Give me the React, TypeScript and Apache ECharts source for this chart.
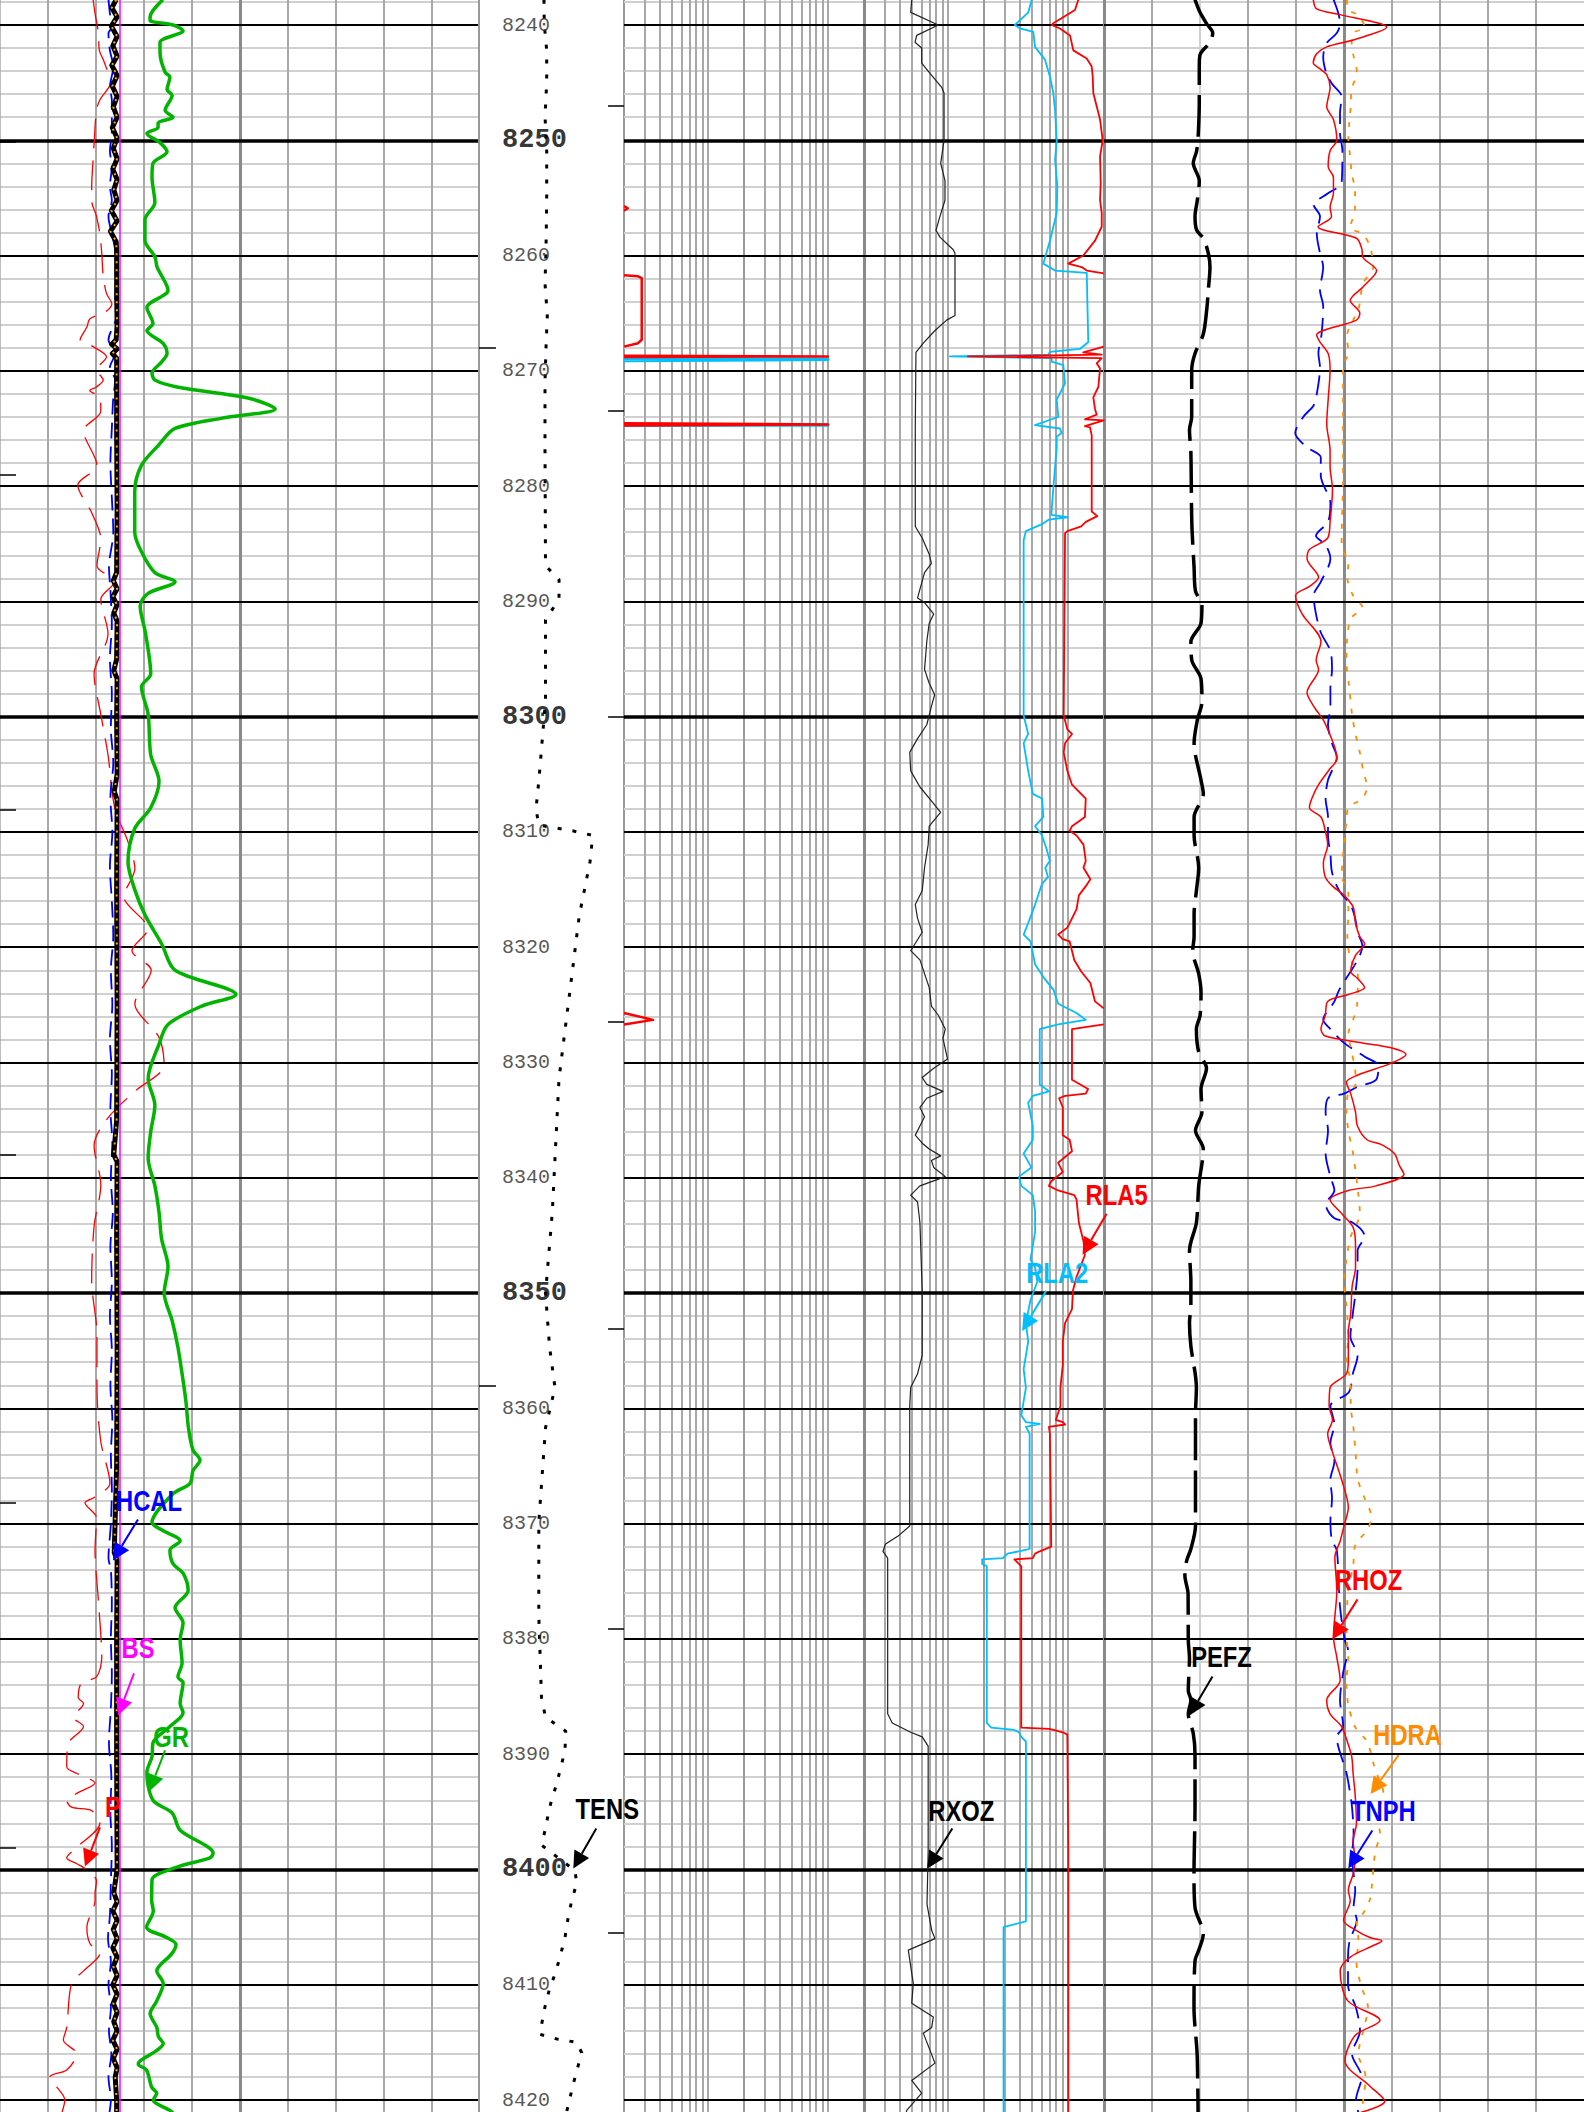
import React, { useEffect, useRef } from 'react';
import * as echarts from 'echarts';

// ---------- depth frame ----------
const DEPTH_TOP = 8237.83;
const DEPTH_BOTTOM = 8421.04;
const DEPTH_LABELS = [8240, 8250, 8260, 8270, 8280, 8290, 8300, 8310, 8320, 8330, 8340, 8350, 8360, 8370, 8380, 8390, 8400, 8410, 8420];
const BOLD_DEPTHS = [8250, 8300, 8350, 8400];

// ---------- grid values ----------
const GR_GRID = [15, 30, 45, 60, 90, 105, 120, 135];
const GR_GRID_MAJOR = [75];
const RES_GRID = [0.3, 0.4, 0.5, 0.6, 0.7, 0.8, 0.9, 1, 3, 4, 5, 6, 7, 8, 9, 10, 30, 40, 50, 60, 70, 80, 90, 100, 300, 400, 500, 600, 700, 800, 900, 1000];
const RES_GRID_DECADE = [2, 200];
const RES_GRID_MAJOR = [20];
const RHOZ_GRID = [2.05, 2.25, 2.35, 2.55, 2.65, 2.75, 2.85];
const RHOZ_GRID_LIGHT = [2.15];
const RHOZ_GRID_MAJOR = [2.45];

// time marks (depths)
const MARKS_TRACK1 = [8250.1, 8279.0, 8308.1, 8338.0, 8368.2, 8398.1];
const MARKS_DEPTH_RIGHT = [8247.0, 8273.5, 8300.0, 8326.5, 8353.1, 8379.1, 8405.5];
const MARKS_DEPTH_LEFT = [8268.0, 8358.0];

// ---------- Track 1 curves: [depth, value] ----------
const GR: number[][] = [
  [8237.8, 50.9], [8239.3, 46.9], [8239.6, 46.9], [8240.0, 54.1], [8240.5, 57.2], [8241.5, 50.0], [8242.4, 50.0], [8244.1, 51.6],
  [8244.5, 53.1], [8245.6, 52.2], [8246.1, 53.8], [8247.4, 51.6], [8248.0, 54.1], [8248.5, 49.4], [8248.9, 49.4], [8249.4, 45.9],
  [8250.2, 50.0], [8251.0, 52.2], [8252.0, 47.8], [8253.2, 47.5], [8255.4, 48.4], [8256.9, 45.3], [8258.7, 45.3], [8260.1, 48.4],
  [8261.0, 49.1], [8263.0, 52.5], [8264.5, 45.9], [8265.9, 47.8], [8266.5, 45.9], [8267.6, 50.9], [8268.5, 52.2], [8269.2, 50.6],
  [8270.2, 47.5], [8270.8, 48.4], [8271.4, 55.3], [8272.4, 78.1], [8273.3, 86.0], [8274.1, 69.4], [8275.0, 54.7], [8276.4, 49.7],
  [8278.2, 44.2], [8280.5, 42.1], [8284.0, 42.1], [8285.7, 44.2], [8287.5, 48.4], [8288.3, 54.7], [8289.3, 46.3], [8290.4, 43.8],
  [8292.8, 45.5], [8296.3, 47.1], [8297.4, 44.2], [8299.8, 46.3], [8303.3, 47.1], [8305.6, 49.7], [8307.9, 47.1], [8309.7, 42.1],
  [8312.6, 40.0], [8315.0, 42.1], [8317.3, 45.5], [8319.7, 50.5], [8322.0, 54.7], [8324.1, 73.7], [8325.1, 63.1], [8326.7, 52.5],
  [8328.4, 49.7], [8331.4, 46.3], [8333.7, 48.4], [8336.0, 47.1], [8338.3, 46.3], [8340.7, 48.4], [8343.0, 49.7], [8345.3, 50.5],
  [8347.7, 52.5], [8350.0, 51.3], [8352.4, 53.8], [8354.7, 55.6], [8357.0, 56.9], [8359.4, 58.1], [8361.7, 58.9], [8363.6, 60.3],
  [8364.5, 62.5], [8365.4, 60.3], [8366.5, 59.4], [8367.4, 54.1], [8369.9, 47.5], [8370.6, 50.9], [8371.5, 56.3], [8372.3, 53.1],
  [8373.5, 54.1], [8374.3, 57.2], [8375.8, 58.8], [8377.3, 54.7], [8378.6, 57.2], [8380.1, 56.3], [8382.1, 56.9], [8383.3, 55.6],
  [8383.8, 57.2], [8385.6, 56.3], [8386.4, 57.2], [8387.6, 53.1], [8389.0, 47.8], [8390.2, 47.5], [8391.6, 45.9], [8394.0, 47.8],
  [8395.1, 53.8], [8396.6, 56.3], [8398.6, 66.6], [8399.0, 65.6], [8399.8, 55.3], [8400.9, 47.5], [8402.7, 47.4], [8403.6, 47.9],
  [8405.0, 45.8], [8405.9, 52.1], [8406.5, 55.0], [8407.3, 53.7], [8408.8, 49.0], [8409.9, 51.0], [8411.4, 49.0], [8412.5, 46.9],
  [8413.7, 49.0], [8414.5, 49.5], [8415.1, 51.0], [8415.7, 49.0], [8416.6, 43.8], [8416.9, 43.2], [8417.4, 45.8], [8418.9, 47.4],
  [8419.4, 49.0], [8420.0, 47.9], [8420.9, 53.1], [8421.1, 54.0],
];

const SP: number[][] = [
  [8237.8, -60.6], [8239.0, -60.2], [8240.7, -59.5], [8242.2, -59.3], [8243.0, -58.5], [8244.5, -57.1], [8244.8, -56.7], [8246.5, -59.2],
  [8247.4, -59.9], [8250.3, -60.4], [8251.7, -60.6], [8254.0, -60.9], [8255.2, -60.9], [8256.6, -59.9], [8258.1, -59.2], [8259.8, -58.8],
  [8261.8, -58.5], [8263.3, -57.8], [8264.2, -56.7], [8264.9, -58.1], [8265.5, -61.3], [8266.2, -61.9], [8267.3, -63.3], [8267.9, -60.6],
  [8268.8, -57.8], [8269.9, -59.9], [8270.8, -58.5], [8271.4, -59.9], [8271.7, -61.3], [8272.3, -59.2], [8273.5, -59.0], [8275.2, -62.6],
  [8278.2, -59.8], [8279.9, -63.8], [8282.3, -60.9], [8284.6, -59.0], [8286.9, -59.8], [8288.3, -56.1], [8289.8, -59.0], [8292.8, -57.5],
  [8296.3, -60.4], [8299.8, -59.0], [8303.3, -57.5], [8307.9, -56.1], [8310.9, -53.3], [8313.2, -51.9], [8315.6, -54.2], [8318.4, -49.2],
  [8320.3, -52.5], [8322.0, -48.5], [8324.9, -51.9], [8327.8, -46.9], [8330.2, -45.8], [8332.5, -51.9], [8334.8, -57.5], [8337.2, -60.4],
  [8340.6, -59.0], [8344.2, -60.4], [8348.9, -60.9], [8353.6, -59.8], [8358.2, -59.8], [8362.9, -59.0], [8366.5, -57.1], [8367.7, -60.2],
  [8368.2, -62.3], [8369.5, -59.9], [8372.3, -60.2], [8376.7, -59.5], [8381.6, -58.8], [8383.3, -59.9], [8383.8, -63.0], [8385.1, -63.7],
  [8385.6, -62.6], [8386.8, -64.7], [8387.6, -62.6], [8389.1, -65.8], [8391.1, -66.1], [8391.8, -63.3], [8392.5, -60.2], [8393.4, -64.0],
  [8394.0, -66.1], [8394.6, -65.1], [8394.9, -60.9], [8396.0, -59.2], [8398.1, -64.0], [8399.0, -66.1], [8399.5, -64.0], [8400.1, -61.6],
  [8401.0, -59.9], [8402.1, -60.2], [8402.7, -60.2], [8405.0, -61.9], [8406.4, -61.3], [8407.3, -59.2], [8408.8, -62.6], [8409.9, -65.1],
  [8413.7, -66.1], [8414.8, -66.8], [8416.0, -64.0], [8417.4, -66.1], [8418.0, -69.6], [8420.0, -66.5], [8421.1, -67.1],
];

const HCAL: number[][] = [
  [8237.8, 8.26], [8239.0, 8.29], [8240.2, 8.33], [8240.7, 8.26], [8242.2, 8.29], [8243.6, 8.36], [8245.4, 8.29], [8246.5, 8.33],
  [8248.0, 8.33], [8249.4, 8.33], [8250.9, 8.29], [8252.3, 8.33], [8254.0, 8.29], [8255.2, 8.33], [8256.6, 8.26], [8258.1, 8.33],
  [8259.5, 8.40], [8261.0, 8.42], [8262.4, 8.42], [8263.9, 8.40], [8265.3, 8.42], [8267.3, 8.26], [8268.5, 8.40], [8269.7, 8.29],
  [8270.8, 8.40], [8272.3, 8.36], [8275.0, 8.33], [8278.0, 8.30], [8281.0, 8.33], [8284.0, 8.36], [8287.0, 8.27], [8289.0, 8.30],
  [8292.0, 8.33], [8295.0, 8.29], [8298.0, 8.33], [8301.0, 8.31], [8304.0, 8.36], [8307.0, 8.30], [8310.0, 8.34], [8313.0, 8.29],
  [8316.0, 8.33], [8319.0, 8.36], [8322.0, 8.31], [8325.0, 8.34], [8328.0, 8.29], [8331.0, 8.33], [8334.0, 8.30], [8337.0, 8.34],
  [8340.0, 8.31], [8343.0, 8.35], [8346.0, 8.30], [8349.0, 8.33], [8352.0, 8.29], [8355.0, 8.33], [8358.0, 8.30], [8361.0, 8.34],
  [8364.0, 8.31], [8367.0, 8.33], [8370.0, 8.31], [8373.0, 8.26], [8374.0, 8.31], [8377.0, 8.33], [8380.0, 8.31], [8383.0, 8.33],
  [8386.0, 8.31], [8389.0, 8.27], [8392.0, 8.32], [8395.0, 8.30], [8398.0, 8.33], [8401.0, 8.31], [8404.0, 8.29], [8406.0, 8.25],
  [8408.0, 8.31], [8410.0, 8.26], [8412.0, 8.31], [8414.0, 8.27], [8416.0, 8.32], [8418.0, 8.26], [8420.0, 8.31], [8421.1, 8.28],
];

const CALI: number[][] = [
  [8237.8, 8.42], [8238.5, 8.33], [8239.3, 8.44], [8240.1, 8.32], [8241.0, 8.44], [8241.8, 8.35], [8242.7, 8.44], [8243.5, 8.33],
  [8244.4, 8.44], [8245.3, 8.34], [8246.2, 8.44], [8247.1, 8.36], [8248.0, 8.44], [8248.9, 8.34], [8249.8, 8.44], [8250.7, 8.36],
  [8251.6, 8.44], [8252.5, 8.35], [8253.4, 8.44], [8254.3, 8.37], [8255.2, 8.44], [8256.1, 8.32], [8257.0, 8.44], [8257.9, 8.30],
  [8258.8, 8.42], [8259.6, 8.43], [8263.0, 8.43], [8266.0, 8.44], [8267.3, 8.42], [8267.7, 8.33], [8268.1, 8.44], [8268.5, 8.34],
  [8268.9, 8.43], [8275.0, 8.43], [8282.0, 8.44], [8287.5, 8.43], [8288.2, 8.36], [8288.9, 8.44], [8289.6, 8.35], [8290.3, 8.44],
  [8291.0, 8.37], [8291.7, 8.44], [8295.0, 8.43], [8296.0, 8.37], [8296.7, 8.44], [8300.0, 8.43], [8305.0, 8.44], [8306.5, 8.38],
  [8307.2, 8.44], [8315.0, 8.43], [8325.0, 8.44], [8335.0, 8.43], [8338.0, 8.37], [8338.6, 8.44], [8345.0, 8.43], [8355.0, 8.44],
  [8365.0, 8.43], [8372.5, 8.38], [8373.2, 8.44], [8380.0, 8.43], [8390.0, 8.43], [8400.0, 8.44], [8402.0, 8.37], [8402.8, 8.44],
  [8403.6, 8.35], [8404.4, 8.44], [8405.2, 8.36], [8406.0, 8.44], [8406.8, 8.35], [8407.6, 8.44], [8408.4, 8.36], [8409.2, 8.44],
  [8410.0, 8.35], [8410.8, 8.44], [8411.6, 8.36], [8412.4, 8.44], [8413.2, 8.37], [8414.0, 8.44], [8414.8, 8.35], [8415.6, 8.44],
  [8416.4, 8.36], [8417.2, 8.44], [8418.0, 8.40], [8420.0, 8.43], [8421.1, 8.43],
];

const BS: number[][] = [[8237.8, 8.5], [8421.1, 8.5]];

// ---------- depth track ----------
const TENS: number[][] = [
  [8237.8, 6500], [8239.0, 6500], [8240.6, 6600], [8242.2, 6770], [8245.0, 6770], [8247.9, 6600], [8250.9, 6770], [8255.2, 6770],
  [8259.5, 6700], [8262.4, 6600], [8265.2, 6830], [8268.0, 6700], [8270.9, 6600], [8276.9, 6600], [8286.9, 6650], [8288.1, 8000],
  [8289.8, 8000], [8291.6, 6650], [8298.6, 6650], [8305.6, 5980], [8308.0, 5700], [8309.4, 5980], [8309.9, 9350], [8310.3, 11370],
  [8312.6, 11100], [8317.3, 10020], [8322.0, 9350], [8326.7, 8670], [8331.4, 8000], [8338.3, 7600], [8343.0, 7330], [8350.0, 6650],
  [8354.7, 7060], [8358.2, 7600], [8361.7, 6650], [8369.9, 5980], [8378.0, 5980], [8385.1, 6250], [8386.8, 6650], [8388.0, 8670],
  [8389.7, 8600], [8391.4, 8100], [8392.6, 7770], [8393.9, 7270], [8395.2, 6930], [8396.6, 6600], [8397.9, 6270], [8400.1, 9600],
  [8401.2, 9770], [8402.7, 9270], [8404.1, 8930], [8405.9, 8600], [8407.6, 8100], [8409.1, 7600], [8410.2, 7100], [8411.9, 6600],
  [8413.4, 6270], [8414.3, 6100], [8414.7, 7770], [8415.0, 9770], [8415.9, 10270], [8417.5, 9770], [8418.6, 9430], [8419.8, 9100],
  [8421.0, 8770],
];

// ---------- Track 2 (ohm.m, log) ----------
const RXOZ: number[][] = [
  [8237.8, 50.0], [8238.9, 49.0], [8240.0, 83.2], [8240.9, 55.0], [8241.5, 53.2], [8242.0, 60.5], [8243.3, 60.5], [8244.2, 71.0],
  [8245.4, 88.8], [8245.9, 92.9], [8250.0, 92.9], [8252.0, 87.1], [8253.5, 94.6], [8255.2, 94.6], [8256.6, 85.9], [8257.8, 79.6],
  [8258.4, 85.9], [8259.5, 110.9], [8259.8, 114.6], [8265.2, 114.6], [8265.6, 97.7], [8266.5, 78.1], [8267.6, 62.4], [8268.4, 54.2],
  [8275.1, 53.5], [8283.5, 53.5], [8284.5, 61.1], [8285.9, 69.9], [8286.7, 72.9], [8287.5, 63.9], [8289.7, 55.9], [8290.1, 63.9],
  [8291.1, 76.2], [8291.9, 69.9], [8293.5, 66.7], [8295.9, 63.9], [8297.1, 69.9], [8298.1, 77.6], [8299.1, 72.9], [8300.7, 66.7],
  [8301.9, 55.9], [8303.1, 48.1], [8304.7, 49.0], [8306.1, 58.5], [8307.3, 72.9], [8308.3, 87.0], [8309.5, 69.9], [8311.1, 68.5],
  [8313.1, 63.9], [8315.1, 61.1], [8316.3, 53.5], [8317.5, 55.9], [8318.7, 61.1], [8320.3, 49.0], [8321.1, 58.5], [8323.5, 69.9],
  [8325.1, 72.9], [8325.9, 83.3], [8327.1, 95.1], [8327.9, 91.0], [8329.7, 99.4], [8330.5, 76.2], [8331.3, 61.1], [8331.9, 66.7],
  [8332.5, 91.0], [8333.1, 66.7], [8333.9, 58.5], [8334.7, 63.9], [8335.5, 58.5], [8336.3, 53.5], [8337.0, 61.1], [8337.5, 69.9],
  [8338.1, 87.0], [8338.5, 72.9], [8339.1, 76.2], [8339.9, 95.1], [8340.7, 58.5], [8341.5, 49.0], [8342.1, 55.9], [8343.9, 58.5],
  [8349.8, 61.1], [8355.4, 61.1], [8357.0, 55.9], [8358.2, 49.0], [8359.8, 48.1], [8370.2, 48.1], [8371.0, 39.3], [8371.8, 30.1],
  [8372.4, 28.8], [8373.0, 31.5], [8386.5, 31.5], [8387.3, 34.4], [8388.1, 49.0], [8388.5, 61.1], [8389.3, 68.5], [8398.4, 68.5],
  [8403.0, 67.0], [8405.3, 73.3], [8406.0, 78.1], [8407.0, 46.8], [8409.9, 51.5], [8411.6, 50.0], [8412.8, 75.6], [8413.7, 73.3],
  [8414.2, 62.4], [8416.8, 78.1], [8418.3, 50.0], [8419.4, 60.5], [8420.9, 45.4], [8421.1, 45.0],
];

const RLA2: number[][] = [
  [8237.8, 500], [8238.9, 468], [8240.0, 362], [8240.3, 399], [8240.6, 515], [8241.9, 532], [8243.0, 644], [8244.5, 710],
  [8245.9, 756], [8247.4, 782], [8250.0, 807], [8251.7, 782], [8254.0, 817], [8256.3, 807], [8258.7, 710], [8260.7, 624],
  [8261.3, 782], [8261.5, 1436], [8267.5, 1479], [8268.1, 1262], [8268.35, 710], [8268.6, 687], [8268.75, 104], [8268.9, 733],
  [8269.2, 733], [8269.5, 916], [8271.1, 946], [8272.5, 807], [8274.0, 832], [8274.2, 733], [8274.7, 532], [8275.0, 859],
  [8275.4, 888], [8275.7, 807], [8276.7, 807], [8277.5, 794], [8279.9, 760], [8282.5, 727], [8282.7, 990], [8282.9, 695],
  [8283.3, 609], [8283.9, 447], [8284.7, 428], [8299.9, 428], [8301.5, 467], [8302.3, 428], [8304.7, 467], [8306.7, 510],
  [8307.1, 609], [8308.7, 625], [8309.5, 533], [8310.3, 609], [8311.5, 665], [8312.5, 708], [8313.1, 648], [8313.9, 683],
  [8314.5, 609], [8316.3, 533], [8317.9, 467], [8318.9, 428], [8319.5, 488], [8321.5, 533], [8322.7, 636], [8323.7, 760],
  [8324.9, 830], [8325.7, 1181], [8326.3, 1409], [8326.7, 830], [8327.1, 583], [8331.9, 583], [8332.5, 695], [8332.9, 510],
  [8333.5, 467], [8335.5, 510], [8336.7, 510], [8337.9, 428], [8339.1, 496], [8339.9, 391], [8340.7, 409], [8341.5, 510],
  [8342.9, 533], [8344.7, 533], [8345.9, 510], [8347.1, 488], [8347.8, 533], [8349.0, 557], [8350.6, 488], [8352.6, 447],
  [8354.2, 467], [8356.6, 428], [8358.2, 447], [8360.6, 409], [8361.2, 447], [8361.35, 583], [8361.6, 447], [8362.2, 480],
  [8372.2, 480], [8372.4, 391], [8372.6, 314], [8373.0, 287], [8373.1, 193], [8373.5, 193], [8373.7, 211], [8387.3, 211],
  [8387.7, 230], [8387.9, 358], [8388.1, 391], [8388.5, 409], [8388.9, 447], [8404.5, 447], [8405.0, 291], [8421.1, 291],
];

// RLA5 is off scale (> 2000) between these pieces
const RLA5_A: number[][] = [
  [8237.8, 1222], [8238.7, 1146], [8239.85, 756], [8240.0, 733], [8240.3, 859], [8240.9, 1042], [8242.2, 1110], [8242.9, 1436],
  [8243.6, 1580], [8244.5, 1611], [8245.9, 1629], [8248.2, 1854], [8250.0, 1950], [8251.4, 1854], [8253.7, 1877], [8255.2, 1854],
  [8256.3, 1914], [8257.5, 1914], [8258.7, 1683], [8260.0, 1344], [8260.7, 1008], [8261.0, 1303], [8261.3, 1436], [8261.55, 1990],
];
const RLA5_B: number[][] = [
  [8267.9, 1990], [8268.4, 1344], [8268.6, 1914], [8268.75, 147], [8268.9, 1914], [8269.35, 1738], [8269.8, 1854], [8271.4, 1793],
  [8272.3, 1629], [8273.3, 1683], [8273.8, 1738], [8274.2, 1389], [8274.3, 1990], [8274.8, 1389], [8274.9, 1529], [8275.6, 1580],
  [8282.2, 1580], [8282.6, 1759], [8283.1, 1410], [8283.5, 1291], [8283.9, 990], [8284.1, 947], [8299.9, 923], [8301.1, 990],
  [8301.5, 1082], [8302.3, 947], [8303.1, 923], [8304.7, 990], [8305.9, 1082], [8307.1, 1410], [8308.7, 1386], [8309.5, 1082],
  [8309.9, 1035], [8310.3, 1181], [8311.1, 1349], [8312.5, 1410], [8313.1, 1349], [8314.1, 1540], [8314.7, 1410], [8315.5, 1235],
  [8316.7, 1181], [8317.5, 1082], [8318.3, 990], [8318.9, 830], [8319.3, 907], [8319.5, 1035], [8321.1, 1130], [8322.1, 1291],
  [8323.1, 1540], [8324.7, 1683], [8325.3, 1990],
];
const RLA5_C: number[][] = [
  [8326.7, 1990], [8327.1, 1082], [8331.5, 1082], [8332.3, 1474], [8332.7, 1410], [8332.9, 947], [8333.1, 845], [8333.9, 907],
  [8336.3, 907], [8336.7, 1035], [8337.7, 1082], [8338.7, 830], [8339.5, 907], [8340.3, 727], [8340.7, 695], [8341.1, 830],
  [8341.5, 1130], [8341.9, 1181], [8343.9, 1235], [8345.5, 1349], [8346.7, 1386], [8348.6, 1181], [8349.8, 1101], [8351.4, 1082],
  [8352.6, 947], [8354.2, 907], [8356.2, 907], [8358.2, 867], [8359.8, 867], [8361.0, 794], [8361.2, 907], [8361.4, 947],
  [8361.6, 695], [8362.2, 708], [8372.0, 727], [8372.4, 583], [8372.6, 533], [8373.0, 510], [8373.1, 358], [8373.5, 391],
  [8373.7, 409], [8387.7, 409], [8387.8, 695], [8387.9, 760], [8388.1, 907], [8388.3, 990], [8398.4, 1008], [8421.1, 1008],
];

// backup (wrapped) excursions
const RLA5_BACKUP: number[][][] = [
  [[8255.7, 0.2], [8255.9, 0.215], [8256.1, 0.2]],
  [[8261.7, 0.2], [8261.8, 0.262], [8261.95, 0.281], [8267.3, 0.281], [8267.6, 0.262], [8267.9, 0.2]],
  [[8268.7, 0.2], [8268.75, 10], [8268.8, 0.2]],
  [[8274.55, 0.2], [8274.65, 10], [8274.75, 0.2]],
  [[8325.7, 0.2], [8326.3, 0.349], [8326.7, 0.2]],
];
const RLA2_BACKUP: number[][][] = [
  [[8268.9, 0.2], [8269.0, 10], [8269.1, 0.2]],
  [[8274.68, 0.2], [8274.7, 10], [8274.72, 0.2]],
];

// ---------- Track 3 ----------
const PEFZ: number[][] = [
  [8237.8, 1.896], [8238.9, 2.0], [8239.9, 2.14], [8240.7, 2.265], [8241.5, 2.208], [8242.6, 2.0], [8243.6, 1.985], [8246.5, 1.985],
  [8249.4, 1.965], [8250.9, 1.931], [8252.0, 1.86], [8253.5, 1.985], [8255.2, 1.944], [8256.6, 1.896], [8257.8, 1.931], [8258.5, 2.069],
  [8259.8, 2.173], [8261.0, 2.208], [8263.0, 2.173], [8264.7, 2.14], [8266.8, 2.069], [8268.5, 1.896], [8269.9, 1.827], [8274.0, 1.827],
  [8275.1, 1.781], [8277.1, 1.81], [8283.1, 1.829], [8287.1, 1.877], [8289.1, 1.906], [8290.3, 2.04], [8291.9, 2.021], [8293.5, 1.81],
  [8295.1, 1.829], [8296.7, 2.021], [8298.7, 2.04], [8300.3, 1.944], [8302.3, 1.877], [8305.5, 2.021], [8306.7, 2.069], [8308.7, 1.877],
  [8310.3, 1.877], [8313.1, 1.973], [8315.1, 1.925], [8317.1, 1.877], [8319.1, 1.877], [8320.3, 1.848], [8322.3, 1.973], [8323.9, 2.021],
  [8325.9, 2.002], [8327.1, 1.925], [8329.1, 1.973], [8330.5, 2.135], [8332.3, 2.021], [8334.3, 2.04], [8335.9, 1.906], [8337.5, 2.069],
  [8340.7, 1.973], [8343.9, 1.925], [8346.3, 1.781], [8349.0, 1.81], [8351.0, 1.81], [8352.6, 1.781], [8354.6, 1.81], [8358.2, 1.925],
  [8360.6, 1.906], [8363.8, 1.906], [8370.2, 1.906], [8372.2, 1.81], [8373.2, 1.723], [8374.5, 1.685], [8376.1, 1.752], [8380.1, 1.756],
  [8381.7, 1.781], [8384.5, 1.756], [8385.3, 1.81], [8386.5, 1.756], [8388.2, 1.86], [8390.0, 1.896], [8394.6, 1.896], [8400.4, 1.875],
  [8403.3, 1.896], [8405.6, 2.069], [8407.1, 1.965], [8407.9, 1.896], [8412.0, 1.875], [8416.0, 1.94], [8421.1, 1.96],
];

const RHOZ: number[][] = [
  [8237.8, 2.386], [8238.6, 2.393], [8239.1, 2.442], [8240.2, 2.539], [8241.3, 2.469], [8241.9, 2.414], [8242.5, 2.393], [8243.3, 2.386],
  [8243.8, 2.4], [8244.3, 2.414], [8245.4, 2.421], [8247.1, 2.414], [8248.2, 2.428], [8250.0, 2.435], [8250.9, 2.421], [8252.3, 2.417],
  [8253.2, 2.428], [8254.6, 2.428], [8255.8, 2.421], [8256.6, 2.424], [8257.5, 2.396], [8258.5, 2.476], [8259.4, 2.487], [8260.2, 2.49],
  [8261.3, 2.518], [8262.7, 2.49], [8263.9, 2.463], [8265.0, 2.483], [8265.6, 2.476], [8266.9, 2.393], [8267.5, 2.4], [8268.5, 2.417],
  [8269.9, 2.421], [8272.5, 2.417], [8274.6, 2.414], [8276.9, 2.421], [8278.3, 2.421], [8280.3, 2.426], [8283.1, 2.421], [8284.5, 2.416],
  [8285.5, 2.378], [8286.3, 2.373], [8287.9, 2.397], [8288.7, 2.378], [8289.5, 2.349], [8291.1, 2.363], [8293.5, 2.402], [8295.1, 2.392],
  [8295.9, 2.397], [8297.9, 2.373], [8299.1, 2.387], [8300.3, 2.407], [8301.1, 2.416], [8302.7, 2.431], [8303.7, 2.435], [8304.5, 2.421],
  [8305.9, 2.397], [8307.1, 2.383], [8307.9, 2.378], [8308.7, 2.402], [8309.9, 2.411], [8311.1, 2.416], [8312.7, 2.407], [8313.9, 2.411],
  [8314.7, 2.426], [8315.5, 2.45], [8316.5, 2.469], [8317.9, 2.474], [8319.1, 2.483], [8319.7, 2.493], [8320.7, 2.474], [8322.1, 2.464],
  [8322.7, 2.478], [8323.5, 2.493], [8324.1, 2.459], [8324.7, 2.416], [8325.9, 2.411], [8327.1, 2.402], [8327.7, 2.411], [8328.3, 2.488],
  [8328.7, 2.546], [8329.3, 2.579], [8330.1, 2.546], [8331.1, 2.478], [8331.7, 2.455], [8332.7, 2.464], [8334.3, 2.474], [8335.5, 2.478],
  [8336.7, 2.498], [8337.1, 2.527], [8337.9, 2.555], [8338.9, 2.565], [8339.7, 2.575], [8340.7, 2.517], [8341.1, 2.459], [8341.9, 2.421],
  [8343.1, 2.445], [8344.3, 2.469], [8345.9, 2.474], [8347.8, 2.474], [8349.4, 2.467], [8351.8, 2.464], [8353.4, 2.459], [8355.8, 2.459],
  [8357.0, 2.455], [8358.2, 2.421], [8359.8, 2.419], [8361.0, 2.426], [8362.2, 2.416], [8363.8, 2.426], [8366.2, 2.445], [8368.6, 2.459],
  [8370.2, 2.45], [8371.5, 2.442], [8372.9, 2.431], [8375.8, 2.435], [8379.8, 2.428], [8381.6, 2.435], [8383.6, 2.442], [8385.3, 2.414],
  [8386.5, 2.421], [8387.6, 2.445], [8388.8, 2.456], [8390.2, 2.466], [8391.7, 2.469], [8393.4, 2.473], [8396.0, 2.476], [8397.5, 2.469],
  [8399.2, 2.473], [8400.4, 2.469], [8401.8, 2.459], [8402.7, 2.463], [8404.4, 2.449], [8405.3, 2.476], [8405.9, 2.504], [8406.2, 2.529],
  [8406.6, 2.511], [8407.6, 2.463], [8408.8, 2.442], [8411.4, 2.458], [8413.1, 2.525], [8414.4, 2.473], [8416.6, 2.452], [8418.8, 2.504],
  [8420.1, 2.535], [8421.1, 2.483],
];

const TNPH: number[][] = [
  [8237.8, 0.163], [8239.0, 0.157], [8239.9, 0.155], [8240.7, 0.159], [8241.6, 0.172], [8242.8, 0.176], [8244.2, 0.172], [8245.1, 0.165],
  [8246.2, 0.153], [8247.7, 0.155], [8249.4, 0.155], [8250.9, 0.152], [8253.7, 0.153], [8254.6, 0.17], [8255.6, 0.188], [8256.6, 0.18],
  [8258.1, 0.184], [8259.8, 0.18], [8261.0, 0.176], [8263.0, 0.18], [8264.4, 0.176], [8266.8, 0.178], [8268.5, 0.182], [8269.7, 0.18],
  [8272.0, 0.184], [8273.0, 0.188], [8274.0, 0.201], [8275.4, 0.211], [8276.6, 0.197], [8277.5, 0.179], [8279.1, 0.179], [8281.5, 0.167],
  [8283.1, 0.17], [8284.3, 0.185], [8285.1, 0.173], [8286.3, 0.167], [8288.3, 0.179], [8289.5, 0.188], [8291.1, 0.185], [8292.7, 0.179],
  [8294.3, 0.167], [8295.9, 0.165], [8297.5, 0.167], [8299.1, 0.167], [8300.7, 0.17], [8302.3, 0.165], [8303.5, 0.159], [8305.5, 0.17],
  [8307.1, 0.173], [8308.7, 0.17], [8310.3, 0.17], [8311.9, 0.167], [8313.5, 0.165], [8315.1, 0.156], [8316.3, 0.142], [8317.5, 0.136],
  [8318.7, 0.133], [8319.9, 0.127], [8321.1, 0.133], [8323.7, 0.156], [8324.7, 0.162], [8326.3, 0.176], [8327.1, 0.167], [8328.3, 0.15],
  [8329.5, 0.124], [8330.3, 0.107], [8331.5, 0.11], [8332.1, 0.133], [8332.7, 0.15], [8333.1, 0.17], [8334.3, 0.173], [8335.9, 0.17],
  [8337.9, 0.173], [8339.9, 0.167], [8341.1, 0.162], [8342.3, 0.173], [8343.5, 0.162], [8343.9, 0.139], [8345.1, 0.124], [8346.3, 0.133],
  [8347.8, 0.133], [8350.2, 0.136], [8351.8, 0.139], [8353.8, 0.142], [8355.4, 0.133], [8357.0, 0.139], [8358.6, 0.144], [8359.8, 0.167],
  [8361.4, 0.162], [8363.0, 0.167], [8364.6, 0.162], [8366.2, 0.167], [8367.8, 0.165], [8369.8, 0.167], [8371.5, 0.165], [8372.3, 0.159],
  [8377.2, 0.155], [8380.1, 0.149], [8380.9, 0.145], [8382.9, 0.151], [8385.3, 0.155], [8387.6, 0.151], [8388.5, 0.159], [8391.6, 0.147],
  [8393.1, 0.143], [8394.6, 0.14], [8396.9, 0.138], [8398.9, 0.14], [8400.4, 0.138], [8401.8, 0.136], [8403.3, 0.138], [8404.4, 0.134],
  [8406.2, 0.143], [8407.6, 0.145], [8410.0, 0.145], [8412.0, 0.135], [8414.0, 0.13], [8416.0, 0.14], [8418.0, 0.128], [8420.0, 0.135],
  [8421.1, 0.132],
];

const HDRA: number[][] = [
  [8237.8, 0.006], [8238.7, 0.009], [8239.1, 0.027], [8240.2, 0.044], [8240.7, 0.019], [8241.6, 0.016], [8242.5, 0.019], [8244.2, 0.027],
  [8245.5, 0.016], [8247.1, 0.014], [8248.5, 0.011], [8250.0, 0.009], [8251.4, 0.013], [8252.9, 0.016], [8254.3, 0.023], [8256.1, 0.023],
  [8257.5, 0.013], [8258.2, 0.04], [8259.2, 0.054], [8261.0, 0.061], [8262.4, 0.04], [8264.7, 0.03], [8265.6, 0.019], [8267.0, 0.006],
  [8268.4, 0.009], [8269.7, -0.002], [8272.5, -0.002], [8275.4, -0.002], [8279.1, -0.002], [8285.1, -0.005], [8286.7, 0.009], [8287.9, 0.007],
  [8289.5, 0.019], [8290.5, 0.038], [8291.5, 0.014], [8293.1, 0.007], [8295.1, 0.005], [8297.5, 0.011], [8299.9, 0.017], [8301.5, 0.024],
  [8303.1, 0.033], [8304.7, 0.04], [8306.1, 0.048], [8307.1, 0.038], [8307.9, 0.009], [8309.1, 0.005], [8311.1, 0.0], [8313.9, -0.005],
  [8315.1, 0.009], [8317.1, 0.009], [8319.1, 0.007], [8321.1, 0.014], [8322.3, 0.029], [8325.1, 0.027], [8326.3, 0.019], [8327.5, 0.009],
  [8328.7, 0.014], [8331.1, 0.024], [8331.9, 0.024], [8332.7, 0.009], [8333.9, 0.005], [8335.9, 0.009], [8337.9, 0.019], [8341.1, 0.029],
  [8343.1, 0.033], [8345.1, 0.014], [8347.1, 0.005], [8349.0, 0.0], [8351.0, 0.005], [8353.8, 0.009], [8355.8, 0.005], [8357.8, 0.014],
  [8359.8, 0.014], [8361.4, 0.019], [8363.8, 0.024], [8366.2, 0.029], [8367.8, 0.043], [8369.4, 0.057], [8370.6, 0.048], [8371.8, 0.024],
  [8373.7, 0.019], [8375.7, 0.009], [8379.7, 0.005], [8381.7, 0.009], [8383.7, 0.005], [8385.7, 0.009], [8387.7, 0.024], [8388.9, 0.048],
  [8390.9, 0.062], [8392.1, 0.072], [8393.3, 0.082], [8395.6, 0.068], [8396.8, 0.075], [8398.5, 0.065], [8400.0, 0.061], [8401.4, 0.058],
  [8402.6, 0.054], [8403.8, 0.04], [8404.4, 0.026], [8406.2, 0.03], [8408.0, 0.026], [8410.0, 0.035], [8412.0, 0.05], [8414.0, 0.04],
  [8416.0, 0.03], [8418.0, 0.045], [8420.0, 0.04], [8421.1, 0.035],
];

// ---------- curve annotations (anchor = arrow tip on the curve) ----------
const ANNOTATIONS = [
  { label: 'HCAL', axis: 'cal', value: 8.354, depth: 8373.19 },
  { label: 'BS', axis: 'cal', value: 8.458, depth: 8386.64 },
  { label: 'GR', axis: 'gr', value: 46.6, depth: 8393.23 },
  { label: 'P', axis: 'sp', value: -62.3, depth: 8399.74 },
  { label: 'TENS', axis: 'tens', value: 9430, depth: 8399.91 },
  { label: 'RXOZ', axis: 'res', value: 67.4, depth: 8399.91 },
  { label: 'RLA5', axis: 'res', value: 1326, depth: 8346.67 },
  { label: 'RLA2', axis: 'res', value: 416, depth: 8353.28 },
  { label: 'PEFZ', axis: 'pefz', value: 1.781, depth: 8386.64 },
  { label: 'RHOZ', axis: 'rhoz', value: 2.426, depth: 8380.04 },
  { label: 'HDRA', axis: 'hdra', value: 0.0554, depth: 8393.46 },
  { label: 'TNPH', axis: 'tnph', value: 0.1446, depth: 8399.91 },
];

const ANNOT_STYLE: Record<string, { color: string; tail: number[]; text: number[] }> = {
  HCAL: { color: '#0000ff', tail: [25, -41], text: [36, -59] },
  BS: { color: '#ff00ff', tail: [16, -42], text: [20, -67] },
  GR: { color: '#00b400', tail: [16, -41], text: [22, -54] },
  P: { color: '#ff0000', tail: [15, -39], text: [28, -59] },
  TENS: { color: '#000000', tail: [23, -40], text: [34, -59] },
  RXOZ: { color: '#000000', tail: [25, -40], text: [34, -57] },
  RLA5: { color: '#ff0000', tail: [24, -41], text: [34, -60] },
  RLA2: { color: '#00bfff', tail: [24, -40], text: [35, -58] },
  PEFZ: { color: '#000000', tail: [23, -39], text: [32, -58] },
  RHOZ: { color: '#ff0000', tail: [25, -40], text: [36, -59] },
  HDRA: { color: '#ff8c00', tail: [28, -39], text: [37, -59] },
  TNPH: { color: '#0000ff', tail: [24, -38], text: [35, -57] },
};

const AXES: Record<string, { x: number; y: number }> = {
  gr: { x: 0, y: 0 }, cal: { x: 1, y: 0 }, sp: { x: 2, y: 0 }, tens: { x: 3, y: 1 }, col: { x: 4, y: 1 },
  res: { x: 5, y: 2 }, rhoz: { x: 6, y: 3 }, tnph: { x: 7, y: 3 }, pefz: { x: 8, y: 3 }, hdra: { x: 9, y: 3 },
};

const toXY = (arr: number[][]) => arr.map(([d, v]) => [v, d]);

function curve(name: string, data: number[][], axis: string, lineStyle: any, z = 10, smooth: number | boolean = false) {
  return {
    type: 'line', name, data: toXY(data), xAxisIndex: AXES[axis].x, yAxisIndex: AXES[axis].y,
    symbol: 'none', showSymbol: false, silent: true, clip: true, z, smooth,
    lineStyle: { cap: 'butt', join: 'round', ...lineStyle },
  };
}

const vLine = (v: number, color: string, width: number) => ({ xAxis: v, lineStyle: { color, width, type: 'solid' } });
const seg = (x1: number, x2: number, d: number, color = '#000', width = 1.5) => [
  { coord: [x1, d], lineStyle: { color, width, type: 'solid' } },
  { coord: [x2, d], lineStyle: { color, width, type: 'solid' } },
];

function gridHelper(axis: string, anchorX: number, vertical: any[], withHorizontal: boolean, extra: any[] = []) {
  const minor: any[] = [];
  const major: any[] = [];
  if (withHorizontal) {
    for (let d = 8238; d <= 8420; d += 2) {
      if (d % 10 === 0) major.push({ yAxis: d, lineStyle: { color: '#000', width: d % 50 === 0 ? 3.5 : 2, type: 'solid' } });
      else minor.push({ yAxis: d, lineStyle: { color: '#d0d0d0', width: 2, type: 'solid' } });
    }
  }
  return {
    type: 'line', xAxisIndex: AXES[axis].x, yAxisIndex: AXES[axis].y, data: [[anchorX, DEPTH_TOP]],
    symbol: 'none', showSymbol: false, silent: true, z: 1,
    markLine: {
      silent: true, symbol: ['none', 'none'], label: { show: false }, animation: false, z: 1,
      emphasis: { disabled: true },
      data: [...minor, ...vertical, ...major, ...extra],
    },
  };
}

export default function App() {
  const ref = useRef<HTMLDivElement>(null);
  useEffect(() => {
    if (!ref.current) return;
    const chart = echarts.init(ref.current, undefined, { renderer: 'svg' });
    const yAxisBase = { type: 'value', min: DEPTH_TOP, max: DEPTH_BOTTOM, inverse: true, show: false };
    const hiddenX = (gridIndex: number, extra: any) => ({ type: 'value', gridIndex, show: false, ...extra });

    const series: any[] = [
      // grids
      gridHelper('gr', 0, [
        vLine(0, '#a8a8a8', 1.5),
        ...GR_GRID.map((v) => vLine(v, '#a8a8a8', 2)),
        ...GR_GRID_MAJOR.map((v) => vLine(v, '#8a8a8a', 3)),
      ], true, MARKS_TRACK1.map((d) => seg(0, 5, d))),
      gridHelper('col', 0, [vLine(0, '#999', 2), vLine(1, '#999', 2)], false, [
        ...MARKS_DEPTH_RIGHT.map((d) => seg(0.89, 1, d)),
        ...MARKS_DEPTH_LEFT.map((d) => seg(0, 0.117, d)),
      ]),
      gridHelper('res', 1, [
        ...RES_GRID.map((v) => vLine(v, '#a8a8a8', 2)),
        ...RES_GRID_DECADE.map((v) => vLine(v, '#9a9a9a', 2)),
        ...RES_GRID_MAJOR.map((v) => vLine(v, '#8a8a8a', 3)),
      ], true),
      gridHelper('rhoz', 2, [
        ...RHOZ_GRID.map((v) => vLine(v, '#a8a8a8', 2)),
        ...RHOZ_GRID_LIGHT.map((v) => vLine(v, '#cfcfcf', 2)),
        ...RHOZ_GRID_MAJOR.map((v) => vLine(v, '#8a8a8a', 3)),
        vLine(1.95, '#8a8a8a', 3),
      ], true),

      // track 1
      curve('SP', SP, 'sp', { color: '#ff0000', width: 1.3, type: [30, 12] }, 10, 0.3),
      curve('HCAL', HCAL, 'cal', { color: '#0000ff', width: 1.8, type: [16, 8] }, 11, 0.3),
      curve('CALI', CALI, 'cal', { color: '#000000', width: 5 }, 12),
      curve('CALI_DOTS', CALI, 'cal', { color: '#ffa500', width: 2, type: [2, 6] }, 13),
      curve('BS', BS, 'cal', { color: '#ff00ff', width: 1.5 }, 14),
      curve('GR', GR, 'gr', { color: '#00b400', width: 3.5 }, 15, 0.3),

      // depth track
      curve('TENS', TENS, 'tens', { color: '#000000', width: 3, type: [4, 11] }, 10),
      {
        type: 'scatter', xAxisIndex: AXES.col.x, yAxisIndex: AXES.col.y, symbolSize: 0, silent: true, z: 20,
        data: DEPTH_LABELS.map((d) => {
          const bold = BOLD_DEPTHS.includes(d);
          return {
            value: [0.159, d],
            label: bold
              ? { fontSize: 27, fontWeight: 'bold', color: '#000' }
              : { fontSize: 20, fontWeight: 'normal', color: '#2a2a2a' },
          };
        }),
        label: {
          show: true, position: 'right', distance: 0,
          fontFamily: '"Courier New", "Liberation Mono", monospace',
          formatter: (p: any) => String(p.value[1]),
        },
      },

      // track 2
      ...RLA5_BACKUP.map((s, i) => curve('RLA5_BK' + i, s, 'res', { color: '#ff0000', width: 2.5 }, 10)),
      ...RLA2_BACKUP.map((s, i) => curve('RLA2_BK' + i, s, 'res', { color: '#00bfff', width: 3.5 }, 9)),
      curve('RXOZ', RXOZ, 'res', { color: '#222222', width: 1.2 }, 10),
      curve('RLA2', RLA2, 'res', { color: '#00bfff', width: 1.8 }, 11),
      curve('RLA5_A', RLA5_A, 'res', { color: '#ff0000', width: 1.8 }, 12),
      curve('RLA5_B', RLA5_B, 'res', { color: '#ff0000', width: 1.8 }, 12),
      curve('RLA5_C', RLA5_C, 'res', { color: '#ff0000', width: 1.8 }, 12),

      // track 3
      curve('PEFZ', PEFZ, 'pefz', { color: '#000000', width: 3.5, type: [42, 10] }, 10, 0.3),
      curve('TNPH', TNPH, 'tnph', { color: '#0000ff', width: 1.8, type: [20, 9] }, 11, 0.3),
      curve('HDRA', HDRA, 'hdra', { color: '#ff8c00', width: 1.8, type: [5, 9] }, 12, 0.3),
      curve('RHOZ', RHOZ, 'rhoz', { color: '#ff0000', width: 1.5 }, 13, 0.3),
    ];

    chart.setOption({
      animation: false,
      backgroundColor: '#ffffff',
      grid: [
        { left: 0, top: 0, width: 480, height: 2112 },
        { left: 479, top: 0, width: 145, height: 2112 },
        { left: 624, top: 0, width: 480, height: 2112 },
        { left: 1104, top: 0, width: 480, height: 2112 },
      ],
      xAxis: [
        hiddenX(0, { min: 0, max: 150 }),
        hiddenX(0, { min: 6, max: 16 }),
        hiddenX(0, { min: -80, max: 20 }),
        hiddenX(1, { min: 0, max: 14500 }),
        hiddenX(1, { min: 0, max: 1 }),
        { type: 'log', logBase: 10, gridIndex: 2, min: 0.2, max: 2000, show: false },
        hiddenX(3, { min: 1.95, max: 2.95 }),
        hiddenX(3, { min: -0.15, max: 0.45, inverse: true }),
        hiddenX(3, { min: 0, max: 10 }),
        hiddenX(3, { min: -0.5, max: 0.5 }),
      ],
      yAxis: [0, 1, 2, 3].map((g) => ({ ...yAxisBase, gridIndex: g })),
      series,
    });

    // annotations with arrows, anchored to data coordinates
    const gfx: any[] = [];
    ANNOTATIONS.forEach((a) => {
      const st = ANNOT_STYLE[a.label];
      const ax = AXES[a.axis];
      const tip = chart.convertToPixel({ xAxisIndex: ax.x, yAxisIndex: ax.y } as any, [a.value, a.depth]) as number[];
      if (!tip) return;
      const tail = [tip[0] + st.tail[0], tip[1] + st.tail[1]];
      const dx = tip[0] - tail[0];
      const dy = tip[1] - tail[1];
      const len = Math.sqrt(dx * dx + dy * dy) || 1;
      const ux = dx / len;
      const uy = dy / len;
      const bx = tip[0] - 17 * ux;
      const by = tip[1] - 17 * uy;
      const px = -uy;
      const py = ux;
      gfx.push({
        type: 'line', silent: true, z: 100,
        shape: { x1: tail[0], y1: tail[1], x2: bx, y2: by },
        style: { stroke: st.color, lineWidth: 2 },
      });
      gfx.push({
        type: 'polygon', silent: true, z: 100,
        shape: { points: [[tip[0], tip[1]], [bx + 8.5 * px, by + 8.5 * py], [bx - 8.5 * px, by - 8.5 * py]] },
        style: { fill: st.color },
      });
      gfx.push({
        type: 'text', silent: true, z: 101,
        x: tip[0] + st.text[0], y: tip[1] + st.text[1], scaleX: 0.82,
        style: {
          text: a.label, fill: st.color, fontSize: 29, fontWeight: 'bold',
          fontFamily: '"Liberation Sans", Arial, sans-serif',
          align: 'center', verticalAlign: 'middle',
        },
      });
    });
    chart.setOption({ graphic: gfx });

    return () => chart.dispose();
  }, []);

  return (
    <div
      ref={ref}
      style={{ position: 'absolute', left: 0, top: 0, width: 1584, height: 2112, background: '#fff' }}
    />
  );
}
